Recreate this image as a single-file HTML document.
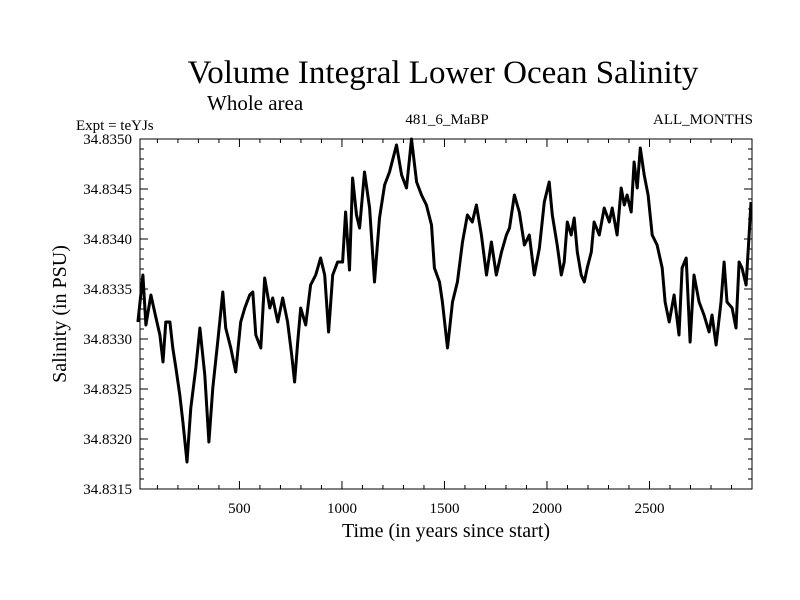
<!DOCTYPE html>
<html><head><meta charset="utf-8"><style>
html,body{margin:0;padding:0;background:#fff;}
svg{display:block;font-family:"Liberation Serif",serif;}
</style></head><body>
<svg id="chart" width="800" height="600" viewBox="0 0 800 600">
<text x="443" y="83" font-size="33" text-anchor="middle">Volume Integral Lower Ocean Salinity</text>
<text x="207" y="110" font-size="21">Whole area</text>
<text x="76" y="130" font-size="15">Expt = teYJs</text>
<text x="447" y="124" font-size="15" text-anchor="middle">481_6_MaBP</text>
<text x="753" y="124" font-size="15" text-anchor="end">ALL_MONTHS</text>
<text x="446" y="537" font-size="20" text-anchor="middle">Time (in years since start)</text>
<text x="0" y="0" font-size="20" text-anchor="middle" transform="translate(66,314) rotate(-90)">Salinity (in PSU)</text>
<g id="axes"></g>
<path id="line" fill="none" stroke="#000" stroke-width="3" stroke-linejoin="round"></path>
<rect x="140" y="139" width="612" height="350" fill="none" stroke="#000" stroke-width="1"></rect>
</svg>
<script>
const years=[5,29,44,68,93,112,127,141,161,175,190,209,224,244,263,287,307,331,351,370,394,419,433,458,482,506,526,550,565,580,604,623,648,662,687,711,735,755,769,784,799,823,847,872,896,916,935,955,979,1003,1018,1037,1052,1071,1086,1110,1135,1159,1183,1208,1232,1266,1291,1315,1339,1364,1388,1412,1437,1451,1476,1490,1515,1539,1563,1588,1612,1636,1656,1680,1705,1729,1753,1778,1802,1817,1841,1865,1890,1914,1938,1963,1987,2011,2026,2050,2070,2084,2099,2118,2133,2148,2167,2182,2196,2216,2230,2255,2279,2304,2318,2342,2362,2377,2391,2411,2425,2440,2455,2474,2493,2513,2537,2562,2576,2596,2620,2644,2659,2679,2698,2717,2742,2766,2791,2805,2825,2849,2864,2878,2903,2922,2937,2951,2971,2986,2995];
const salinity=[34.83317,34.83364,34.83314,34.83344,34.83321,34.83304,34.83277,34.83317,34.83317,34.83291,34.83271,34.83244,34.83217,34.83177,34.83231,34.83271,34.83311,34.83264,34.83197,34.83251,34.83297,34.83347,34.83311,34.83291,34.83267,34.83317,34.83331,34.83344,34.83347,34.83304,34.83291,34.83361,34.83331,34.83341,34.83317,34.83341,34.83317,34.83284,34.83257,34.83297,34.83331,34.83314,34.83354,34.83364,34.83381,34.83364,34.83307,34.83364,34.83377,34.83377,34.83427,34.83369,34.83461,34.83424,34.83411,34.83467,34.83431,34.83357,34.83421,34.83454,34.83467,34.83494,34.83464,34.83451,34.83500,34.83457,34.83444,34.83434,34.83414,34.83371,34.83357,34.83337,34.83291,34.83337,34.83357,34.83397,34.83424,34.83417,34.83434,34.83404,34.83364,34.83397,34.83364,34.83387,34.83404,34.83411,34.83444,34.83427,34.83394,34.83404,34.83364,34.83391,34.83437,34.83457,34.83424,34.83394,34.83364,34.83377,34.83417,34.83404,34.83421,34.83387,34.83364,34.83357,34.83371,34.83387,34.83417,34.83404,34.83431,34.83417,34.83431,34.83404,34.83451,34.83434,34.83444,34.83427,34.83477,34.83451,34.83491,34.83464,34.83444,34.83404,34.83394,34.83371,34.83337,34.83317,34.83344,34.83304,34.83371,34.83381,34.83297,34.83364,34.83337,34.83324,34.83307,34.83324,34.83294,34.83337,34.83377,34.83337,34.83331,34.83311,34.83377,34.83371,34.83354,34.83404,34.83437];
const xTicks=[500,1000,1500,2000,2500];
const yTicks=[34.8315,34.8320,34.8325,34.8330,34.8335,34.8340,34.8345,34.8350];
const yTickLabels=["34.8315","34.8320","34.8325","34.8330","34.8335","34.8340","34.8345","34.8350"];
const X0=140,X1=752,Y0=139,Y1=489,XMIN=15,XMAX=3000,YMIN=34.8315,YMAX=34.8350;
function xs(v){return X0+(v-XMIN)/(XMAX-XMIN)*(X1-X0);}
function ys(v){return Y1-(v-YMIN)/(YMAX-YMIN)*(Y1-Y0);}
const NS="http://www.w3.org/2000/svg";
const axes=document.getElementById('axes');
function ln(x1,y1,x2,y2,name){const l=document.createElementNS(NS,'line');l.setAttribute('x1',x1);l.setAttribute('y1',y1);l.setAttribute('x2',x2);l.setAttribute('y2',y2);l.setAttribute('stroke','#000');l.setAttribute('stroke-width','1');


axes.appendChild(l);}
function tx(x,y,s,anchor,name){const t=document.createElementNS(NS,'text');t.setAttribute('x',x);t.setAttribute('y',y);t.setAttribute('font-size','15');t.setAttribute('text-anchor',anchor);t.textContent=s;


axes.appendChild(t);}
for(let v=100;v<=3000;v+=100){const x=xs(v);const major=v%500===0;const L=major?8:4;
ln(x,Y1,x,Y1-L,'x-tick');ln(x,Y0,x,Y0+L,'x-tick-top');}
xTicks.forEach(v=>tx(xs(v),Y1+24,String(v),'middle','x-tick-label'));
for(let i=0;i<=35;i++){const v=YMIN+i*0.0001;const y=ys(v);const major=i%5===0;const L=major?8:4;
ln(X0,y,X0+L,y,'y-tick');ln(X1,y,X1-L,y,'y-tick-right');}
yTicks.forEach((v,i)=>tx(X0-8,ys(v)+5,yTickLabels[i],'end','y-tick-label'));
let d='';
years.forEach((yr,i)=>{d+=(i?'L':'M')+xs(yr).toFixed(1)+','+ys(salinity[i]).toFixed(1);});
document.getElementById('line').setAttribute('d',d);
</script>
</body></html>
